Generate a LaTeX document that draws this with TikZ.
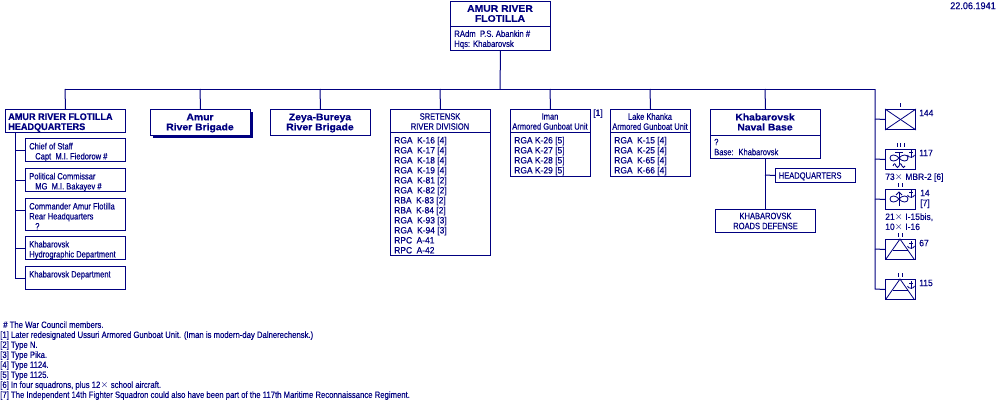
\documentclass[tikz,border=0pt]{standalone}
\usepackage{fontspec}
\setmainfont[FakeStretch=0.82,FakeBold=0.2]{Liberation Sans}
\newfontfamily\numfont[FakeStretch=0.92,FakeBold=0.2]{Liberation Sans}
\newfontfamily\footfont[FakeStretch=0.84,FakeBold=0.2]{Liberation Sans}
\newfontfamily\headfont[FakeStretch=1.08,FakeBold=0.4]{Liberation Sans}
\newfontfamily\hqfont[FakeStretch=0.95,FakeBold=0.4]{Liberation Sans}
\definecolor{navy}{HTML}{000080}
\tikzset{
  box/.style n args={2}{draw=navy,fill=white,line width=0.75pt,minimum width=#1*0.75pt,minimum height=#2*0.75pt,inner sep=0pt,anchor=north west},
  txt/.style={text=navy,font=\fontsize{6.9}{7.5}\selectfont,inner sep=0pt,align=left,anchor=north west},
  numtxt/.style={txt,font=\fontsize{6.9}{7.5}\selectfont\numfont},
  ctxt/.style={text=navy,font=\fontsize{6.9}{7.5}\selectfont,inner sep=0pt,align=center},
  btxt/.style={text=navy,font=\fontsize{7.2}{7.5}\selectfont\headfont\bfseries,inner sep=0pt,align=center},
  link/.style={draw=navy,line width=0.75pt},
  sym/.style={draw=navy,line width=0.6pt}
}
\newcommand{\anchormark}[2]{
  \draw[sym] (#1,#2) -- (#1,#2+8);
  \draw[sym] (#1-2,#2+2.5) -- (#1+2,#2+2.5);
  \draw[sym] (#1-3.5,#2+5) .. controls (#1-3,#2+8) and (#1+3,#2+8) .. (#1+3.5,#2+5);
}
\newcommand{\propmark}[2]{
  \draw[sym] (#1,#2) .. controls (#1-3,#2-4) and (#1-9,#2-4) .. (#1-9,#2) .. controls (#1-9,#2+4) and (#1-3,#2+4) .. (#1,#2);
  \draw[sym] (#1,#2) .. controls (#1+3,#2-4) and (#1+9,#2-4) .. (#1+9,#2) .. controls (#1+9,#2+4) and (#1+3,#2+4) .. (#1,#2);
}
\newcommand{\wide}{\hspace{1.6pt}}
\begin{document}
\begin{tikzpicture}[x=0.75pt,y=-0.75pt]
  \useasboundingbox (0,0) rectangle (1000,400);

  % top box
  \node[box={100}{49}] (top) at (450,0.5) {};
  \draw[link] (450,26.5) -- (550,26.5);
  \node[btxt] (topt) at (500,13.5) {AMUR RIVER\\FLOTILLA};
  \node[txt,font=\fontsize{6.9}{7.5}\selectfont\footfont] (tops) at (454,30) {RAdm\wide{} P.S. Abankin \#\\Hqs: Khabarovsk};
  \node[numtxt,font=\fontsize{7.4}{7.5}\selectfont\numfont] (date) at (950,2) {22.06.1941};

  % bus
  \coordinate (bus) at (500,89);
  \coordinate (busl) at (65,89);
  \coordinate (busr) at (875,89);
  \draw[link] (top.south) -- (bus);
  \draw[link] (busl) -- (busr);

  % headquarters
  \node[box={120}{23}] (hq) at (5,109) {};
  \node[txt,font=\fontsize{7.2}{7.5}\selectfont\hqfont\bfseries] (hqt) at (8,113) {AMUR RIVER FLOTILLA\\HEADQUARTERS};
  \draw[link] (busl) -- (hq.north);

  \node[box={100}{23}] (s1) at (25,138) {};
  \node[box={100}{23}] (s2) at (25,168) {};
  \node[box={100}{32}] (s3) at (25,198) {};
  \node[box={100}{23}] (s4) at (25,236) {};
  \node[box={100}{23}] (s5) at (25,266) {};
  \node[txt] (s1t) at (29,142.5) {Chief of Staff\\\hspace*{4.5pt}Capt\wide{} M.I. Fiedorow \#};
  \node[txt] (s2t) at (29,172.5) {Political Commissar\\\hspace*{4.5pt}MG\wide{} M.I. Bakayev \#};
  \node[txt] (s3t) at (29,202.5) {Commander Amur Flotilla\\Rear Headquarters\\\hspace*{4.5pt}?};
  \node[txt] (s4t) at (29,240.5) {Khabarovsk\\Hydrographic Department};
  \node[txt] (s5t) at (29,270.5) {Khabarovsk Department};
  \coordinate (spine) at (15,132);
  \coordinate (spined) at (15,278);
  \draw[link] (spine) -- (spined) -- (spined -| s5.west);
  \draw[link] (15,150) -- (s1.west);
  \draw[link] (15,180) -- (s2.west);
  \draw[link] (15,210) -- (25,210);
  \draw[link] (15,248) -- (s4.west);

  % brigades
  \fill[navy] (153,112) rectangle (253,138);
  \node[box={100}{26}] (amur) at (150,109) {};
  \node[box={100}{26}] (zeya) at (270,109) {};
  \node[btxt] (amurt) at (200,123) {Amur\\River Brigade};
  \node[btxt] (zeyat) at (320,123) {Zeya-Bureya\\River Brigade};
  \draw[link] (200,89) -- (amur.north);
  \draw[link] (320,89) -- (zeya.north);

  % sretensk
  \node[box={100}{146}] (sre) at (390,109) {};
  \draw[link] (390,132) -- (490,132);
  \node[ctxt] (sret) at (440,121.5) {SRETENSK\\RIVER DIVISION};
  \node[numtxt] (srel) at (394,136.5) {RGA\wide{} K-16 [4]\\RGA\wide{} K-17 [4]\\RGA\wide{} K-18 [4]\\RGA\wide{} K-19 [4]\\RGA\wide{} K-81 [2]\\RGA\wide{} K-82 [2]\\RBA\wide{} K-83 [2]\\RBA\wide{} K-84 [2]\\RGA\wide{} K-93 [3]\\RGA\wide{} K-94 [3]\\RPC\wide{} A-41\\RPC\wide{} A-42};
  \draw[link] (440,89) -- (sre.north);

  % iman
  \node[box={80}{67}] (ima) at (510,109) {};
  \draw[link] (510,132) -- (590,132);
  \node[ctxt] (imat) at (550,121.5) {Iman\\Armored Gunboat Unit};
  \node[numtxt] (imal) at (514,136.5) {RGA K-26 [5]\\RGA K-27 [5]\\RGA K-28 [5]\\RGA K-29 [5]};
  \node[numtxt] (iman) at (593,109) {[1]};
  \draw[link] (550,89) -- (ima.north);

  % khanka
  \node[box={80}{67}] (kha) at (610,109) {};
  \draw[link] (610,132) -- (690,132);
  \node[ctxt] (khat) at (650,121.5) {Lake Khanka\\Armored Gunboat Unit};
  \node[numtxt] (khal) at (614,136.5) {RGA\wide{} K-15 [4]\\RGA\wide{} K-25 [4]\\RGA\wide{} K-65 [4]\\RGA\wide{} K-66 [4]};
  \draw[link] (650,89) -- (kha.north);

  % naval base
  \node[box={110}{49}] (nav) at (710,109) {};
  \draw[link] (710,135) -- (820,135);
  \node[btxt] (navt) at (765,122) {Khabarovsk\\Naval Base};
  \node[txt] (navs) at (714,138.5) {?\\Base:\wide{} Khabarovsk};
  \draw[link] (765,89) -- (nav.north);
  \node[box={80}{14}] (nhq) at (775,168) {};
  \node[txt] (nhqt) at (778.5,172) {HEADQUARTERS};
  \node[box={100}{23}] (roa) at (715,209) {};
  \node[ctxt] (roat) at (roa.center) {KHABAROVSK\\ROADS DEFENSE};
  \draw[link] (nav.south) -- (roa.north);
  \draw[link] (765,175) -- (nhq.west);

  % right column
  \node[box={30}{20}] (u1) at (885,109) {};
  \node[box={30}{20}] (u2) at (885,149) {};
  \node[box={30}{20}] (u3) at (885,189) {};
  \node[box={30}{20}] (u4) at (885,239) {};
  \node[box={30}{20}] (u5) at (885,279) {};
  \draw[link] (busr) -- (875,289) -- (u5.west);
  \draw[link] (875,119) -- (u1.west);
  \draw[link] (875,159) -- (u2.west);
  \draw[link] (875,199) -- (u3.west);
  \draw[link] (875,249) -- (u4.west);

  % 144
  \draw[sym] (u1.north west) -- (u1.south east);
  \draw[sym] (u1.south west) -- (u1.north east);
  \draw[sym] (900,103) -- (900,107);
  % 117
  \draw[sym] (897,143) -- (897,147);
  \draw[sym] (900.5,143) -- (900.5,147);
  \draw[sym] (904,143) -- (904,147);
  \propmark{899}{158}
  \draw[sym] (899,152) -- (899,164);
  \draw[sym] (895,152) -- (903,152);
  \anchormark{911}{150}
  \draw[sym] (893,166) .. controls (894,163) and (895,163) .. (896,166) .. controls (897,168) and (898,168) .. (899,166) .. controls (900,163) and (901,163) .. (902,166) .. controls (903,168) and (904,168) .. (905,166);
  % 14
  \draw[sym] (898,183) -- (898,187);
  \draw[sym] (902,183) -- (902,187);
  \propmark{899}{199}
  \draw[sym] (899,206) -- (899,192);
  \draw[sym] (896,195) -- (899,192) -- (902,195);
  \anchormark{911}{190}
  % 67
  \draw[sym] (898,233) -- (898,237);
  \draw[sym] (902,233) -- (902,237);
  \draw[sym] (886,259) -- (900,239) -- (914,259);
  \draw[sym] (893,250) -- (908,250);
  \anchormark{911}{241}
  % 115
  \draw[sym] (898,273) -- (898,277);
  \draw[sym] (902,273) -- (902,277);
  \draw[sym] (886,299) -- (900,279) -- (914,299);
  \draw[sym] (893,290) -- (908,290);
  \anchormark{911}{281}

  \node[numtxt] (u1l) at (919,109.5) {144};
  \node[numtxt] (u2l) at (919,149.5) {117};
  \node[numtxt] (u2c) at (885,173) {73$\times$ MBR-2 [6]};
  \node[numtxt] (u3l) at (920,189.5) {14\\{}[7]};
  \node[numtxt] (u3c) at (885,213) {21$\times$ I-15bis,\\10$\times$ I-16};
  \node[numtxt] (u4l) at (919,239.5) {67};
  \node[numtxt] (u5l) at (919,279.5) {115};

  % footnotes
  \node[txt,font=\fontsize{6.9}{7.5}\selectfont\footfont] (foot) at (0,321) {\hspace*{2.25pt}\# The War Council members.\\{}[1] Later redesignated Ussuri Armored Gunboat Unit. (Iman is modern-day Dalnerechensk.)\\{}[2] Type N.\\{}[3] Type Pika.\\{}[4] Type 1124.\\{}[5] Type 1125.\\{}[6] In four squadrons, plus 12$\times$ school aircraft.\\{}[7] The Independent 14th Fighter Squadron could also have been part of the 117th Maritime Reconnaissance Regiment.};
\end{tikzpicture}
\end{document}
